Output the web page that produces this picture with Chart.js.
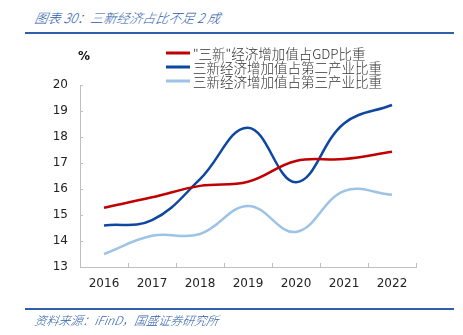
<!DOCTYPE html>
<html>
<head>
<meta charset="utf-8">
<script src="https://cdn.jsdelivr.net/npm/chart.js"></script>
<style>
  body { margin: 0; background: #fff; width: 463px; height: 335px; position: relative; overflow: hidden; }
  .title { position: absolute; left: 35px; top: 8px; font: italic 300 13px "Noto Sans CJK SC"; color: #2a5caa; transform: skewX(-10deg); }
  .rule { position: absolute; left: 25px; width: 429px; height: 2px; background: #2e5fa8; }
  .source { position: absolute; left: 35px; top: 311px; font: italic 300 12px "Noto Sans CJK SC"; color: #2a5caa; transform: skewX(-10deg); }
  #wrap { position: absolute; left: 0; top: 0; width: 463px; height: 335px; }
</style>
</head>
<body>
<div class="title">图表 30：三新经济占比不足 2 成</div>
<div class="rule" style="top:32px"></div>
<div id="wrap"><canvas id="chart"></canvas></div>
<div class="rule" style="top:308px"></div>
<div class="source">资料来源：iFinD，国盛证券研究所</div>
<script>
// 数据
const years = ['2016', '2017', '2018', '2019', '2020', '2021', '2022'];
const shareGDP = [15.28, 15.68, 16.12, 16.28, 17.08, 17.15, 17.43];
const shareSecondary = [14.6, 14.8, 16.38, 18.36, 16.26, 18.52, 19.23];
const shareTertiary = [13.5, 14.2, 14.27, 15.35, 14.35, 15.92, 15.78];
const seriesNames = ['"三新"经济增加值占GDP比重', '三新经济增加值占第二产业比重', '三新经济增加值占第三产业比重'];

const tickFont = { family: 'DejaVu Sans', size: 12 };

// 图例 + 内侧刻度
const extras = {
  id: 'extras',
  afterDraw(chart) {
    const ctx = chart.ctx;
    const area = chart.chartArea;
    ctx.save();
    ctx.strokeStyle = '#bfbfbf';
    ctx.lineWidth = 1;
    const ys = chart.scales.y;
    ys.ticks.forEach(function (t) {
      const py = Math.round(ys.getPixelForValue(t.value)) + 0.5;
      ctx.beginPath();
      ctx.moveTo(area.left, py);
      ctx.lineTo(area.left + 3, py);
      ctx.stroke();
    });
    const xs = chart.scales.x;
    for (let i = 0; i <= years.length; i++) {
      const px = Math.round(xs.left + (xs.right - xs.left) * i / years.length) + 0.5;
      ctx.beginPath();
      ctx.moveTo(px, area.bottom);
      ctx.lineTo(px, area.bottom - 4);
      ctx.stroke();
    }
    // legend
    ctx.font = '300 13.5px "Noto Sans CJK SC"';
    ctx.textBaseline = 'middle';
    chart.data.datasets.forEach(function (ds, i) {
      const y = 53 + i * 14;
      ctx.strokeStyle = ds.borderColor;
      ctx.lineWidth = 3;
      ctx.beginPath();
      ctx.moveTo(166, y);
      ctx.lineTo(190, y);
      ctx.stroke();
      ctx.fillStyle = '#333';
      ctx.fillText(ds.label, 193, y + 1);
    });
    ctx.font = 'bold 12px "DejaVu Sans"';
    ctx.fillStyle = '#111';
    ctx.fillText('%', 78, 57);
    ctx.restore();
  }
};

new Chart(document.getElementById('chart'), {
  type: 'line',
  data: {
    labels: years,
    datasets: [
      { label: seriesNames[0], data: shareGDP, borderColor: '#c00000' },
      { label: seriesNames[1], data: shareSecondary, borderColor: '#0d47a1' },
      { label: seriesNames[2], data: shareTertiary, borderColor: '#9dc3e6' }
    ]
  },
  options: {
    responsive: true,
    maintainAspectRatio: false,
    animation: false,
    layout: { padding: { left: 0, right: 47, top: 85, bottom: 34 } },
    elements: {
      line: { borderWidth: 2.5, tension: 0.4, fill: false },
      point: { radius: 0 }
    },
    plugins: { legend: { display: false }, tooltip: { enabled: false } },
    scales: {
      x: {
        offset: true,
        grid: { display: false, drawTicks: false },
        border: { color: '#bfbfbf' },
        ticks: { color: '#222', font: tickFont, padding: 10, maxRotation: 0 },
        afterFit: function (s) { s.height = 34; }
      },
      y: {
        min: 13, max: 20,
        grid: { display: false, drawTicks: false },
        border: { color: '#bfbfbf' },
        ticks: { stepSize: 1, color: '#222', font: tickFont, padding: 12 },
        afterFit: function (s) { s.width = 80; }
      }
    }
  },
  plugins: [extras]
});
</script>
</body>
</html>
